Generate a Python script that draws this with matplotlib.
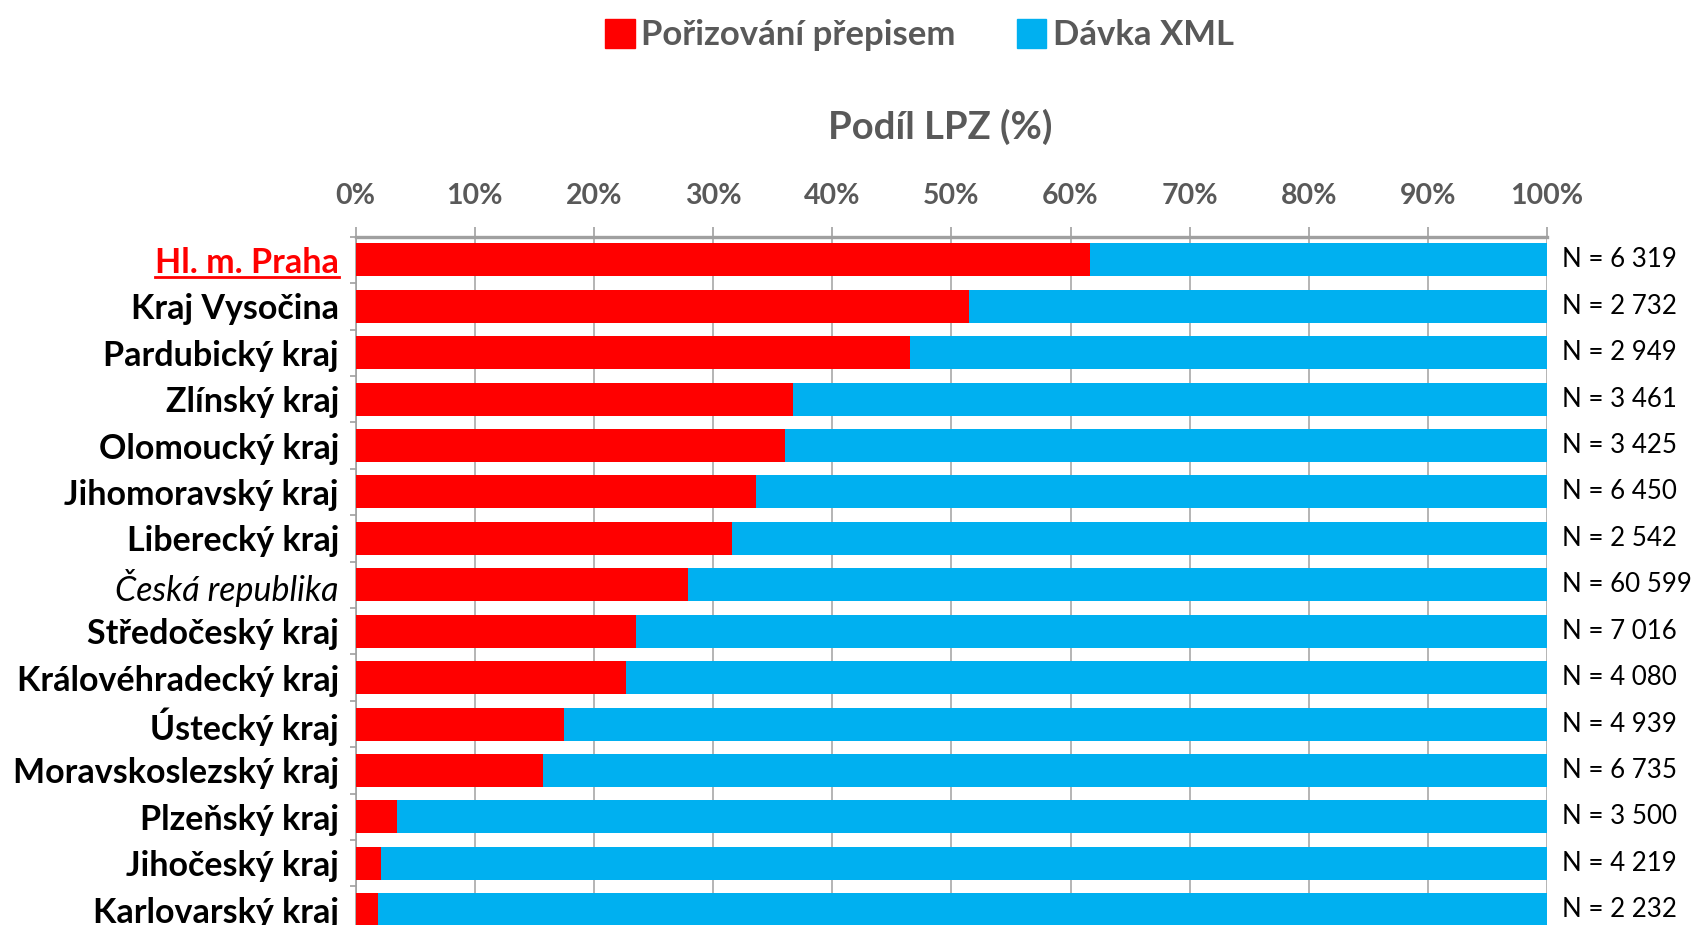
import matplotlib.pyplot as plt
from matplotlib.patches import Patch
from matplotlib.lines import Line2D

# data (share of LPZ in %, N = count)
regions = ['Hl. m. Praha', 'Kraj Vysočina', 'Pardubický kraj', 'Zlínský kraj',
           'Olomoucký kraj', 'Jihomoravský kraj', 'Liberecký kraj', 'Česká republika',
           'Středočeský kraj', 'Královéhradecký kraj', 'Ústecký kraj',
           'Moravskoslezský kraj', 'Plzeňský kraj', 'Jihočeský kraj', 'Karlovarský kraj']
prepis = [61.6, 51.5, 46.5, 36.7, 36.0, 33.6, 31.6, 27.9,
          23.5, 22.7, 17.5, 15.7, 3.5, 2.1, 1.9]
xml = [100 - p for p in prepis]
n_labels = ['N = 6 319', 'N = 2 732', 'N = 2 949', 'N = 3 461', 'N = 3 425',
            'N = 6 450', 'N = 2 542', 'N = 60 599', 'N = 7 016', 'N = 4 080',
            'N = 4 939', 'N = 6 735', 'N = 3 500', 'N = 4 219', 'N = 2 232']
xticks = [0, 10, 20, 30, 40, 50, 60, 70, 80, 90, 100]

RED = '#FF0000'
BLUE = '#00B0F0'
GREY = '#595959'
LINE = '#A0A0A0'

plt.rcParams['font.family'] = ['Lato', 'DejaVu Sans']

fig = plt.figure(figsize=(16.92, 9.25), dpi=100, facecolor='white')
ax = fig.add_axes([0.2102, 0.0, 0.7042, 0.7441])

y = list(range(len(regions)))
ax.barh(y, prepis, height=0.71, color=RED, zorder=3)
ax.barh(y, xml, left=prepis, height=0.71, color=BLUE, zorder=3)

ax.set_xlim(0, 100)
ax.set_ylim(14.33, -0.5)

# x axis on top
ax.xaxis.tick_top()
ax.set_xticks(xticks)
ax.set_xticklabels([f'{t}%' for t in xticks])
ax.tick_params(axis='x', colors=LINE, length=7, width=1.2, pad=13,
               labelsize=20.5, labelcolor=GREY)
for lab in ax.get_xticklabels():
    lab.set_fontweight('bold')
ax.grid(axis='x', color=LINE, linewidth=1.1, zorder=0)

# y axis categories
ax.set_yticks(y)
ax.set_yticklabels(regions)
ax.set_yticks([i + 0.5 for i in range(-1, 14)], minor=True)
ax.tick_params(axis='y', which='major', length=0, pad=12, labelsize=24.5)
ax.tick_params(axis='y', which='minor', length=4, width=1.2, colors=LINE)
for i, lab in enumerate(ax.get_yticklabels()):
    if regions[i] == 'Česká republika':
        lab.set_fontstyle('italic')
    else:
        lab.set_fontweight('bold')
    if i == 0:
        lab.set_color(RED)

for s in ['right', 'bottom']:
    ax.spines[s].set_visible(False)
ax.spines['top'].set_color(LINE)
ax.spines['top'].set_linewidth(2.4)
ax.spines['left'].set_color(LINE)
ax.spines['left'].set_linewidth(1.2)

# N counts on the right
for i, txt in enumerate(n_labels):
    ax.annotate(txt, xy=(1.0, i), xycoords=('axes fraction', 'data'),
                xytext=(11, 0), textcoords='offset points',
                va='center', ha='left', fontsize=18.6, color='black',
                annotation_clip=False)

# axis title and legend
fig.text(0.5556, 0.863, 'Podíl LPZ (%)', ha='center', va='center',
         fontsize=27.5, fontweight='bold', color=GREY)
handles = [Patch(color=RED, label='Pořizování přepisem'),
           Patch(color=BLUE, label='Dávka XML')]
leg = fig.legend(handles=handles, loc='center', bbox_to_anchor=(0.5435, 0.962),
                 ncol=2, frameon=False, handlelength=0.84, handleheight=0.9,
                 handletextpad=0.2, columnspacing=1.75,
                 prop={'size': 25, 'weight': 'bold'})
for t in leg.get_texts():
    t.set_color(GREY)

# underline the Praha label
fig.canvas.draw()
bb = ax.get_yticklabels()[0].get_window_extent()
inv = fig.transFigure.inverted()
(x0, y0), (x1, _) = inv.transform([(bb.x0, bb.y0 + 2), (bb.x1, bb.y0 + 2)])
fig.add_artist(Line2D([x0, x1], [y0, y0], color=RED, linewidth=2,
                      transform=fig.transFigure))

fig.savefig('out.png', dpi=100, facecolor='white')
